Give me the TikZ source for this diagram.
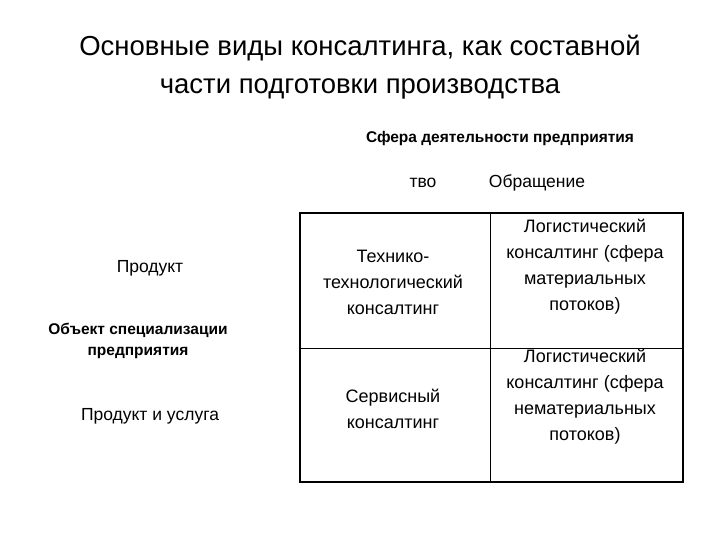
\documentclass[tikz,border=0pt]{standalone}
\usepackage{fontspec}
\setmainfont{Liberation Sans}
\begin{document}
\begin{tikzpicture}[x=1pt,y=-1pt,
  cell/.style={align=center,font=\fontsize{18}{26}\selectfont},
  lbl/.style={align=center,font=\fontsize{17.5}{22}\selectfont},
  blbl/.style={align=center,font=\fontsize{15.5}{21}\selectfont\bfseries},
  grid/.style={draw=black,line width=1.2pt}]
\useasboundingbox (0,0) rectangle (720,540);
\node[align=center,font=\fontsize{27.5}{38}\selectfont] (title) at (360,67) {Основные виды консалтинга, как составной\\части подготовки производства};
\node[blbl] (sfera) at (500,138) {Сфера деятельности предприятия};
\node[lbl] (tvo) at (423,183) {тво};
\node[lbl] (obr) at (537,183) {Обращение};
\coordinate (tl) at (300,213);
\coordinate (br) at (683,482);
\draw[grid] (tl) rectangle (br);
\coordinate (mt) at (490,213);
\coordinate (mb) at (490,482);
\draw[grid,line width=1pt] (mt) -- (mb);
\coordinate (ml) at (300,348);
\coordinate (mr) at (683,348);
\draw[grid,line width=1pt] (ml) -- (mr);
\node[cell] (c11) at (393,282) {Технико-\\технологический\\консалтинг};
\node[cell] (c12) at (585,267) {Логистический\\консалтинг (сфера\\материальных\\потоков)};
\node[cell] (c21) at (393,409) {Сервисный\\консалтинг};
\node[cell] (c22) at (585,397) {Логистический\\консалтинг (сфера\\нематериальных\\потоков)};
\node[lbl] (prod) at (150,268) {Продукт};
\node[blbl] (obj) at (138,341) {Объект специализации\\предприятия};
\node[lbl] (pu) at (150,416) {Продукт и услуга};
\end{tikzpicture}
\end{document}
